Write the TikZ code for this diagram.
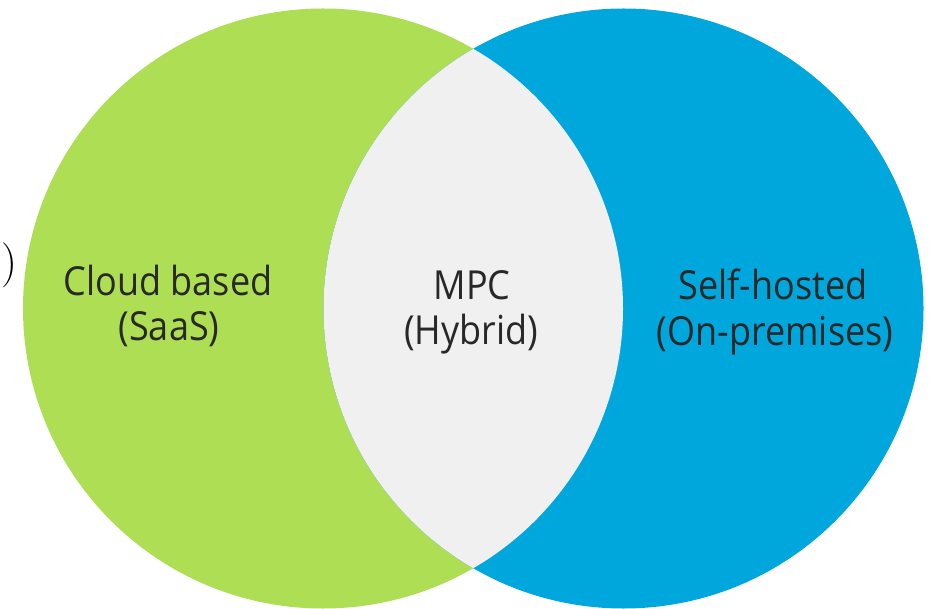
\documentclass[tikz,border=0pt]{standalone}
\usepackage{fontspec}
\newfontfamily\labelfont[FakeStretch=0.9]{Open Sans}
\definecolor{vgreen}{RGB}{173,222,84}
\definecolor{vblue}{RGB}{0,167,220}
\definecolor{vlens}{RGB}{240,240,240}
\definecolor{vtext}{RGB}{40,40,40}
\tikzset{
  lbl/.style={font=\labelfont\fontsize{40}{45}\selectfont, text=vtext, anchor=base, inner sep=0pt},
}
\begin{document}
\begin{tikzpicture}[x=1pt,y=-1pt]
\useasboundingbox (0,0) rectangle (936,609);
\fill[vgreen] (323,308.5) circle[radius=300pt];
\fill[vblue] (623.5,308.5) circle[radius=300pt];
\begin{scope}
  \clip (323,308.5) circle[radius=300pt];
  \fill[vlens] (623.5,308.5) circle[radius=300pt];
\end{scope}
\node[font=\fontsize{45}{45}\selectfont, inner sep=0pt] (paren) at (9,265.5) {)};
\node[lbl] (cloudA) at (168,295) {Cloud based};
\node[lbl] (cloudB) at (169,340) {(SaaS)};
\node[lbl] (mpcA) at (472,299) {MPC};
\node[lbl] (mpcB) at (471,344) {(Hybrid)};
\node[lbl] (selfA) at (773,299) {Self-hosted};
\node[lbl] (selfB) at (775,345) {(On-premises)};
\end{tikzpicture}
\end{document}
